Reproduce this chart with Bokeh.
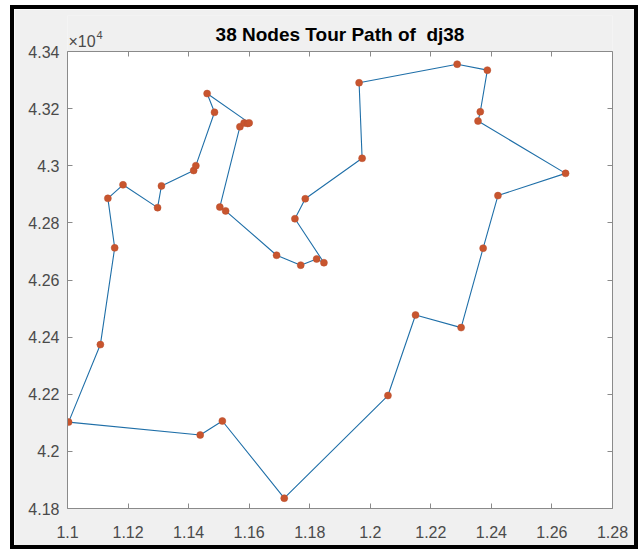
from bokeh.plotting import figure
from bokeh.models import FixedTicker, LinearAxis, Label, Range1d, BoxAnnotation
from bokeh.embed import file_html
from bokeh.resources import INLINE

# dj38 node coordinates
node_x = [11003.6111, 11108.6111, 11133.3333, 11155.8333, 11183.3333, 11297.5000,
          11310.2778, 11416.6667, 11423.8889, 11438.3333, 11461.1111, 11485.5556,
          11503.0556, 11511.3889, 11522.2222, 11569.4444, 11583.3333, 11595.0000,
          11600.0000, 11690.5556, 11715.8333, 11751.1111, 11770.2778, 11785.2778,
          11822.7778, 11846.9444, 11963.0556, 11973.0556, 12058.3333, 12149.4444,
          12286.9444, 12300.0000, 12355.8333, 12363.3333, 12372.7778, 12386.6667,
          12421.6667, 12645.0000]
node_y = [42102.5000, 42373.8889, 42885.8333, 42712.5000, 42933.3333, 42853.3333,
          42929.4444, 42983.3333, 43000.2778, 42057.2222, 43252.7778, 43187.2222,
          42855.2778, 42106.3889, 42841.9444, 43136.6667, 43150.0000, 43148.0556,
          43150.0000, 42686.6667, 41836.1111, 42814.4444, 42651.9444, 42884.4444,
          42673.6111, 42660.5556, 43290.5556, 43026.1111, 42195.5556, 42477.5000,
          43355.5556, 42433.3333, 43156.3889, 43189.1667, 42711.3889, 43334.7222,
          42895.5556, 42973.3333]
# visiting order (1-based node ids)
tour = [1, 2, 4, 3, 5, 6, 7, 8, 9, 12, 11, 19, 18, 17, 16, 13, 15, 20, 23, 25,
        26, 22, 24, 28, 27, 31, 36, 34, 33, 38, 37, 35, 32, 30, 29, 21, 14, 10]

x_ticks = [11000, 11200, 11400, 11600, 11800, 12000, 12200, 12400, 12600, 12800]
x_tick_labels = ["1.1", "1.12", "1.14", "1.16", "1.18", "1.2", "1.22", "1.24", "1.26", "1.28"]
y_ticks = [41800, 42000, 42200, 42400, 42600, 42800, 43000, 43200, 43400]
y_tick_labels = ["4.18", "4.2", "4.22", "4.24", "4.26", "4.28", "4.3", "4.32", "4.34"]

title_text = "38 Nodes Tour Path of \u00a0dj38"
exp_base = "\u00d710"
exp_power = "4"

X0, X1 = x_ticks[0], x_ticks[-1]
Y0, Y1 = y_ticks[0], y_ticks[-1]

path_x = [node_x[i - 1] for i in tour] + [node_x[tour[0] - 1]]
path_y = [node_y[i - 1] for i in tour] + [node_y[tour[0] - 1]]

FONT = "Liberation Sans"
AX_COL = "#8a8a8a"
LBL_COL = "#4a4a4a"

W, H = 620, 536
MB_L, MB_R, MB_T, MB_B = 53, 22, 6, 37
BOX_PX = 457                      # pixel height of the axes box
FRAME_PX = H - MB_T - MB_B        # frame is taller: room for title above the box
y_top = Y1 + (FRAME_PX - BOX_PX) * (Y1 - Y0) / BOX_PX

p = figure(width=W, height=H, output_backend="svg", toolbar_location=None,
           x_range=Range1d(X0, X1), y_range=Range1d(Y0, y_top),
           min_border_left=MB_L, min_border_right=MB_R, min_border_top=MB_T,
           min_border_bottom=MB_B,
           background_fill_color="#F0F0F0", border_fill_color="#F0F0F0",
           x_axis_type=None, y_axis_type=None)
p.styles = {"outline": "4px solid black", "outline-offset": "0px",
            "margin-left": "14px", "margin-top": "9px"}
p.grid.visible = False
p.outline_line_color = None
p.title.visible = False

# white axes box
p.add_layout(BoxAnnotation(left=X0, right=X1, bottom=Y0, top=Y1, fill_color="white",
                           fill_alpha=1.0, line_color=None, level="underlay"))

def make_axis(ticks, labels, show_labels):
    ax = LinearAxis(ticker=FixedTicker(ticks=ticks),
                    major_label_overrides={t: l for t, l in zip(ticks, labels)})
    ax.axis_line_color = AX_COL
    ax.major_tick_line_color = AX_COL
    ax.major_tick_in = 5
    ax.major_tick_out = 0
    ax.minor_tick_line_color = None
    ax.major_label_text_font = FONT
    if show_labels:
        ax.major_label_text_font_size = "16px"
        ax.major_label_text_color = LBL_COL
    else:
        ax.major_label_text_font_size = "0px"
        ax.major_label_text_color = None
        ax.major_label_standoff = 0
    return ax

xb = make_axis(x_ticks, x_tick_labels, True)
xb.major_label_standoff = 17
yl = make_axis(y_ticks, y_tick_labels, True)
yl.major_label_standoff = 8
yl.bounds = (Y0, Y1)
xt = make_axis(x_ticks, x_tick_labels, False)
xt.fixed_location = Y1
yr = make_axis(y_ticks, y_tick_labels, False)
yr.bounds = (Y0, Y1)
p.add_layout(xb, "below")
p.add_layout(yl, "left")
p.add_layout(xt, "above")
p.add_layout(yr, "right")

p.line(path_x, path_y, line_color="#1f6fa8", line_width=1.1)
p.scatter(node_x, node_y, marker="circle", size=7, fill_color="#C8552E",
          line_color="#B84E2E", line_width=0.5)

p.add_layout(Label(x=(X0 + X1) / 2, y=Y1, y_offset=17, text=title_text,
                   text_align="center", text_baseline="alphabetic",
                   text_font=FONT, text_font_size="19px", text_font_style="bold",
                   text_color="black"))
p.add_layout(Label(x=X0, y=Y1, x_offset=1, y_offset=10, text=exp_base,
                   text_baseline="alphabetic",
                   text_font=FONT, text_font_size="16px", text_color=LBL_COL))
p.add_layout(Label(x=X0, y=Y1, x_offset=29, y_offset=17, text=exp_power,
                   text_baseline="alphabetic",
                   text_font=FONT, text_font_size="11px", text_color=LBL_COL))

open("out.html", "w").write(file_html(p, INLINE))
